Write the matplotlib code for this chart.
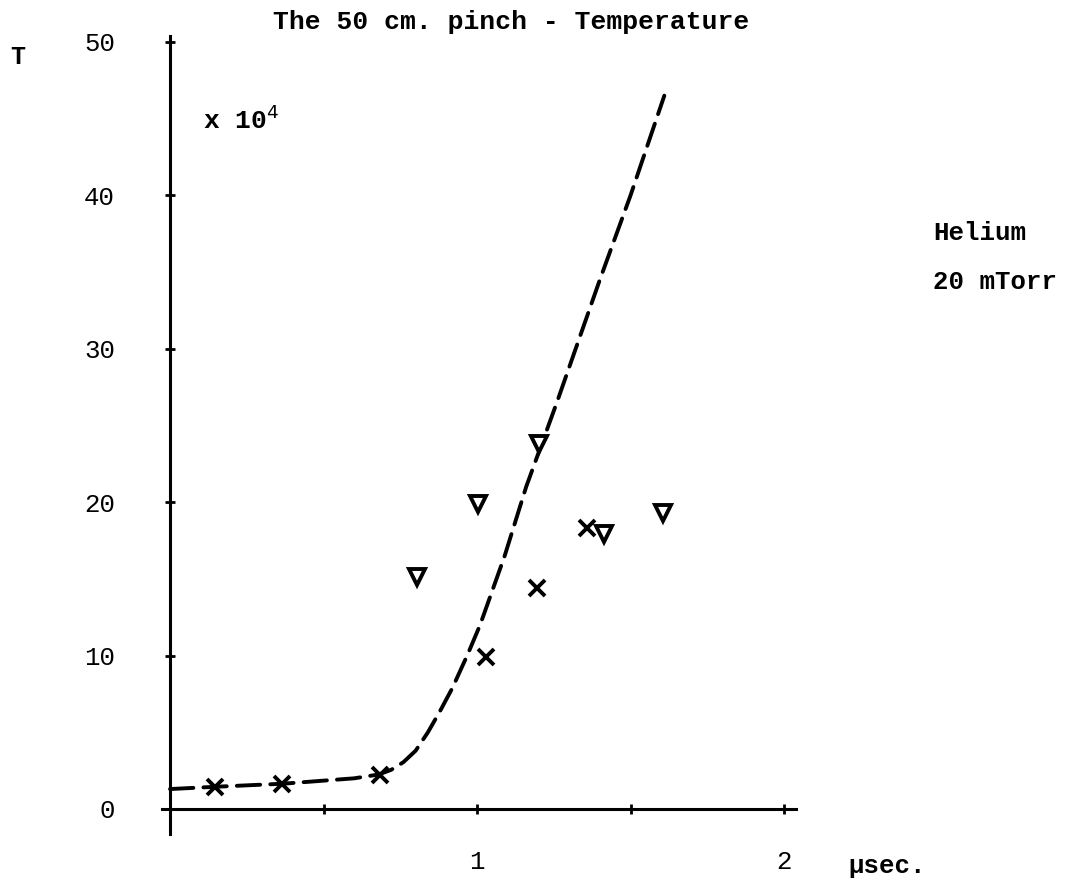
import matplotlib
matplotlib.use("Agg")
import matplotlib.pyplot as plt
from matplotlib.ticker import FixedLocator

# ---- data ----
curve_t = [0.0, 0.15, 0.37, 0.60, 0.68, 0.72, 0.76, 0.80, 0.84, 0.88, 0.92, 0.97, 1.01, 1.09, 1.16, 1.26, 1.40, 1.50, 1.61]
curve_T = [1.3, 1.45, 1.65, 2.0, 2.25, 2.55, 3.05, 3.8, 5.0, 6.4, 7.9, 10.1, 12.0, 16.5, 21.0, 26.5, 34.5, 40.0, 46.5]

cross_t = [0.147, 0.365, 0.684, 1.03, 1.195, 1.358]
cross_T = [1.43, 1.63, 2.22, 9.9, 14.4, 18.3]

tri_t = [0.804, 1.003, 1.202, 1.414, 1.606]
tri_T = [15.1, 19.9, 23.8, 17.9, 19.3]

y_ticks = [0, 10, 20, 30, 40, 50]
x_major = [1, 2]
x_minor = [0.5, 1.5]

title = "The 50 cm. pinch - Temperature"
font = "Liberation Mono"

fig = plt.figure(figsize=(10.71, 8.81), dpi=100)
ax = fig.add_axes([0.1301, 0.0295, 0.6593, 0.9577])
ax.set_xlim(-0.1, 2.2)
ax.set_ylim(-3, 52)

ax.plot(curve_t, curve_T, color="black", lw=2.8, dashes=(6, 2.6),
        solid_capstyle="round", dash_capstyle="round", solid_joinstyle="round")
ax.plot(cross_t, cross_T, linestyle="none", marker="x", ms=11, mew=2.8, color="black")
ax.plot(tri_t, tri_T, linestyle="none", marker="v", ms=12, mew=2.8, mfc="white", mec="black")

for s in ["top", "right"]:
    ax.spines[s].set_visible(False)
ax.spines["left"].set_position(("data", 0))
ax.spines["bottom"].set_position(("data", 0))
ax.spines["left"].set_bounds(-1.6, 50.4)
ax.spines["bottom"].set_bounds(-0.026, 2.04)
for s in ["left", "bottom"]:
    ax.spines[s].set_linewidth(2.2)

ax.yaxis.set_major_locator(FixedLocator(y_ticks))
ax.set_yticklabels([str(v) for v in y_ticks])
ax.xaxis.set_major_locator(FixedLocator(x_major))
ax.xaxis.set_minor_locator(FixedLocator(x_minor))
ax.set_xticklabels([str(v) for v in x_major])
ax.tick_params(axis="y", direction="inout", length=7, width=2, pad=36, labelsize=18.5)
ax.tick_params(axis="x", which="both", direction="inout", length=7, width=2, pad=26, labelsize=18.5)
for lab in ax.get_xticklabels() + ax.get_yticklabels():
    lab.set_family(font)

fig.text(511 / 1071, 1 - 22 / 881, title, ha="center", va="center", fontsize=19, family=font, weight="bold")
fig.text(18 / 1071, 1 - 57 / 881, "T", ha="center", va="center", fontsize=18, family=font, weight="bold")
ax.text(0.107, 44.9, r"x 10$^4$", ha="left", va="center", fontsize=19, family=font, weight="bold")
fig.text(887 / 1071, 1 - 866 / 881, "\u00b5sec.", ha="center", va="center", fontsize=18.5, family=font, weight="bold")
fig.text(933 / 1071, 1 - 233 / 881, "Helium", ha="left", va="center", fontsize=18.5, family=font, weight="bold")
fig.text(933 / 1071, 1 - 282 / 881, "20 mTorr", ha="left", va="center", fontsize=18.5, family=font, weight="bold")

fig.savefig("out.png", dpi=100, facecolor="white")
